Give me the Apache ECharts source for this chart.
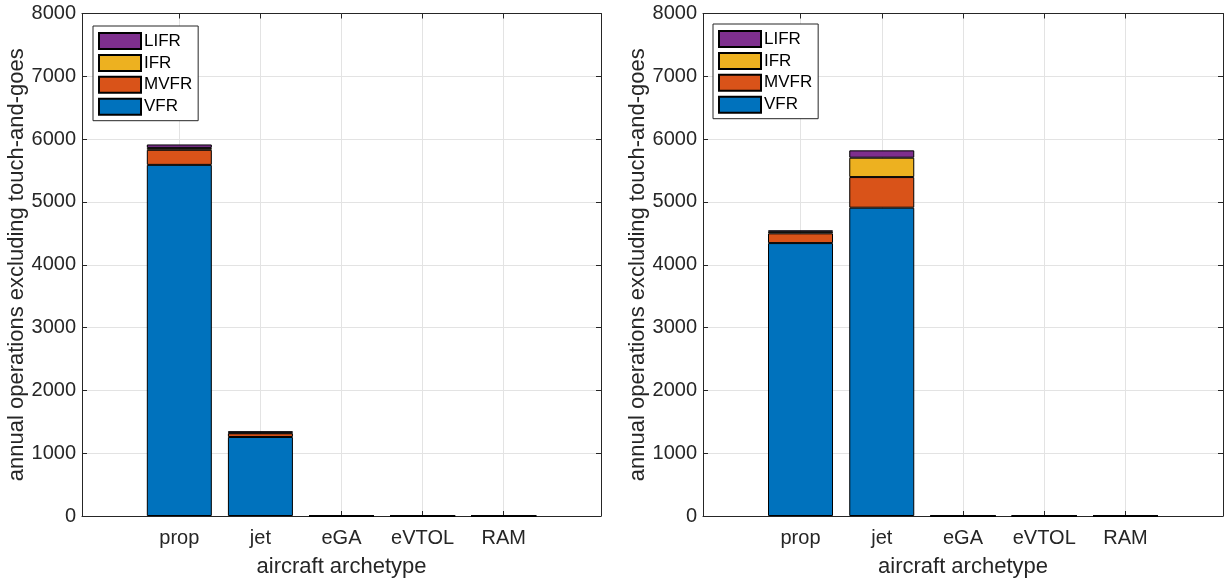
<!DOCTYPE html>
<html><head><meta charset="utf-8">
<script src="https://cdn.jsdelivr.net/npm/echarts@6/dist/echarts.min.js"></script>
<style>html,body{margin:0;padding:0;background:#fff}#c{width:1225px;height:579px}</style>
</head><body><div id="c"></div>
<script>
const categories = ['prop', 'jet', 'eGA', 'eVTOL', 'RAM'];
const conditions = ['VFR', 'MVFR', 'IFR', 'LIFR'];
const legendOrder = ['LIFR', 'IFR', 'MVFR', 'VFR'];
const yTicks = [0, 1000, 2000, 3000, 4000, 5000, 6000, 7000, 8000];
// left panel
const leftVFR  = [5590, 1258, 0, 0, 0];
const leftMVFR = [240, 59, 0, 0, 0];
const leftIFR  = [30, 12, 0, 0, 0];
const leftLIFR = [55, 20, 0, 0, 0];
// right panel
const rightVFR  = [4345, 4908, 0, 0, 0];
const rightMVFR = [155, 488, 0, 0, 0];
const rightIFR  = [25, 308, 0, 0, 0];
const rightLIFR = [23, 117, 0, 0, 0];

const colors = {VFR: '#0072BD', MVFR: '#D95319', IFR: '#EDB120', LIFR: '#7E2F8E'};
const axisColor = '#262626';
const font = 'Liberation Sans, Arial, Helvetica, sans-serif';
const catPos = categories.map((c, i) => i + 1);

function xAxes(gi) {
  return [{
    type: 'value', gridIndex: gi, min: -0.2, max: 6.2, position: 'bottom',
    name: 'aircraft archetype', nameLocation: 'middle', nameGap: 40,
    nameTextStyle: {fontFamily: font, fontSize: 22, color: axisColor},
    axisLine: {show: true, onZero: false, lineStyle: {color: axisColor, width: 1}},
    axisTick: {show: true, inside: true, length: 5, customValues: catPos, lineStyle: {color: axisColor}},
    axisLabel: {show: true, customValues: catPos, margin: 12, fontFamily: font, fontSize: 20, color: axisColor,
      formatter: v => categories[Math.round(v) - 1] || ''},
    splitLine: {show: true, lineStyle: {color: '#e3e3e3', width: 1}}
  }, {
    type: 'value', gridIndex: gi, min: -0.2, max: 6.2, position: 'top',
    axisLine: {show: true, onZero: false, lineStyle: {color: axisColor, width: 1}},
    axisTick: {show: true, inside: true, length: 5, customValues: catPos, lineStyle: {color: axisColor}},
    axisLabel: {show: false}, splitLine: {show: false}
  }];
}
function yAxes(gi) {
  return [{
    type: 'value', gridIndex: gi, min: 0, max: 8000, interval: 1000, position: 'left',
    name: 'annual operations excluding touch-and-goes', nameLocation: 'middle', nameGap: 54,
    nameTextStyle: {fontFamily: font, fontSize: 22, color: axisColor},
    axisLine: {show: true, onZero: false, lineStyle: {color: axisColor, width: 1}},
    axisTick: {show: true, inside: true, length: 5, lineStyle: {color: axisColor}},
    axisLabel: {margin: 6, fontFamily: font, fontSize: 20, color: axisColor,
      formatter: v => yTicks.includes(v) ? String(v) : ''},
    splitLine: {show: true, lineStyle: {color: '#e3e3e3', width: 1}}
  }, {
    type: 'value', gridIndex: gi, min: 0, max: 8000, interval: 1000, position: 'right',
    axisLine: {show: true, onZero: false, lineStyle: {color: axisColor, width: 1}},
    axisTick: {show: true, inside: true, length: 5, lineStyle: {color: axisColor}},
    axisLabel: {show: false}, splitLine: {show: false}
  }];
}
function series(gi, dataSets) {
  return conditions.map((name, k) => ({
    name, type: 'bar', stack: 'S' + gi, xAxisIndex: gi * 2, yAxisIndex: gi * 2,
    barWidth: 65,
    encode: {x: 1, y: 0},
    itemStyle: {color: colors[name], borderColor: '#000', borderWidth: 1},
    emphasis: {disabled: true},
    data: dataSets[k].map((v, i) => [v, catPos[i]])
  }));
}
function legend(left, top) {
  return {
    data: legendOrder, orient: 'vertical', left, top, icon: 'rect',
    itemWidth: 42, itemHeight: 16, itemGap: 3.9,
    padding: [6, 6, 5, 5],
    backgroundColor: '#fff', borderColor: axisColor, borderWidth: 1, borderRadius: 0,
    textStyle: {fontFamily: font, fontSize: 17, lineHeight: 16, color: '#000', padding: [0, 0, 0, -2]},
    selectedMode: false
  };
}
const chart = echarts.init(document.getElementById('c'), null, {renderer: 'canvas'});
chart.setOption({
  animation: false,
  backgroundColor: '#fff',
  grid: [
    {left: 82, top: 13.5, width: 519, height: 502.5, containLabel: false, outerBoundsMode: 'none'},
    {left: 703, top: 13.5, width: 520, height: 502.5, containLabel: false, outerBoundsMode: 'none'}
  ],
  xAxis: [...xAxes(0), ...xAxes(1)],
  yAxis: [...yAxes(0), ...yAxes(1)],
  legend: [legend(93, 26), legend(713, 24)],
  series: [
    ...series(0, [leftVFR, leftMVFR, leftIFR, leftLIFR]),
    ...series(1, [rightVFR, rightMVFR, rightIFR, rightLIFR])
  ]
});
</script></body></html>
